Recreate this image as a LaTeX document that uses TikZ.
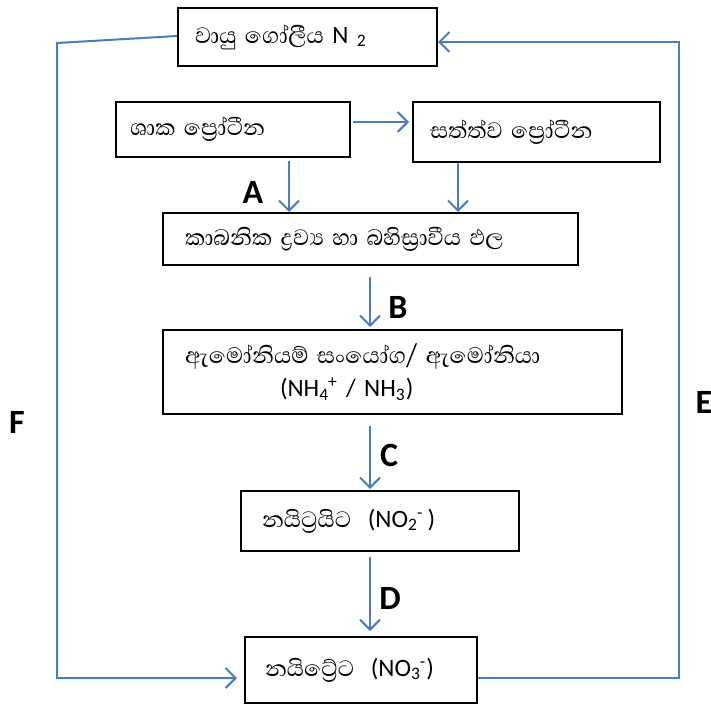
\documentclass[tikz,border=0pt]{standalone}
\usepackage{fontspec}
\setmainfont{Carlito}
\newfontfamily\sinfont[Script=Sinhala,Scale=1.14]{Abhaya Libre}
\usetikzlibrary{arrows.meta}
\definecolor{cycleblue}{HTML}{4A7EBB}

\begin{document}
\begin{tikzpicture}[x=0.5pt,y=-0.5pt,
box/.style={draw=black,line width=1pt,align=left,inner ysep=0pt,font=\fontsize{12.5}{16.5}\selectfont},
flow/.style={draw=cycleblue,line width=1pt,-{Straight Barb[length=5pt,width=10pt]}},
tag/.style={font=\fontsize{17}{20}\selectfont\bfseries}]

\useasboundingbox (0,0) rectangle (711,711);

\node[box,text width=112.5pt,inner xsep=8.5pt,minimum height=29pt] (N2) at (307.5,37) {{\sinfont වායු ගෝලීය} N \textsubscript{2}};

\node[box,text width=103pt,inner xsep=7pt,minimum height=27.5pt] (plant) at (233,129.5) {\sinfont ශාක ප්^^^^200dරෝටීන};
\node[box,text width=106.5pt,inner xsep=8.5pt,minimum height=30pt] (animal) at (536.5,132) {\sinfont සත්ත්ව ප්^^^^200dරෝටීන};

\node[box,text width=185.5pt,inner xsep=11pt,minimum height=26pt] (organic) at (370.5,239) {\sinfont කාබනික ද්^^^^200dරව්^^^^200dය හා බහිස්^^^^200dරාවීය ඵල};

\node[box,text width=207.5pt,inner xsep=11pt,minimum height=42pt] (ammonium) at (392.5,372) {{\sinfont ඇමෝනියම් සංයෝග/ ඇමෝනියා}\\\hspace*{47.5pt}(NH\textsubscript{4}\kern-0.5pt\textsuperscript{+} / NH\textsubscript{3})};

\node[box,text width=118pt,inner xsep=10.5pt,minimum height=30pt] (nitrite) at (380,521) {{\sinfont නයිට්^^^^200dරයිට}\ \ (NO\textsubscript{2}\kern-0.5pt\textsuperscript{-}\,)};

\node[box,text width=96pt,inner xsep=10pt,minimum height=33pt] (nitrate) at (361,670) {{\sinfont නයිට්^^^^200dරේට}\ \ (NO\textsubscript{3}\kern-0.5pt\textsuperscript{-})};

\draw[flow] ([shift={(2,-7.5)}]plant.east) -- ([shift={(-3,-10)}]animal.west);
\draw[flow] ([shift={(56,3)}]plant.south) -- ([shift={(-81.5,0)}]organic.north);
\draw[flow] ([shift={(-78.5,0)}]animal.south) -- ([shift={(87.5,0)}]organic.north);
\draw[flow] ([shift={(-0.5,11)}]organic.south) -- ([shift={(-22.5,-2)}]ammonium.north);
\draw[flow] ([shift={(-22.5,11)}]ammonium.south) -- ([shift={(-10,-1)}]nitrite.north);
\draw[flow] ([shift={(-10,5)}]nitrite.south) -- ([shift={(9,-5)}]nitrate.north);

\coordinate (e1) at (679,678);
\coordinate (e2) at (679,42);
\draw[flow] ([yshift=-4pt]nitrate.east) -- (e1) -- (e2) -- ([yshift=-2.5pt]N2.east);

\coordinate (f1) at (57,43);
\coordinate (f2) at (57,678);
\draw[flow] ([yshift=0.5pt]N2.west) -- (f1) -- (f2) -- ([shift={(-7,8)}]nitrate.west);

\node[tag] (A) at (253,192) {A};
\node[tag] (B) at (398,307) {B};
\node[tag] (C) at (389,455) {C};
\node[tag] (D) at (390,598) {D};
\node[tag] (E) at (704,402) {E};
\node[tag] (F) at (17,422) {F};
\end{tikzpicture}
\end{document}
